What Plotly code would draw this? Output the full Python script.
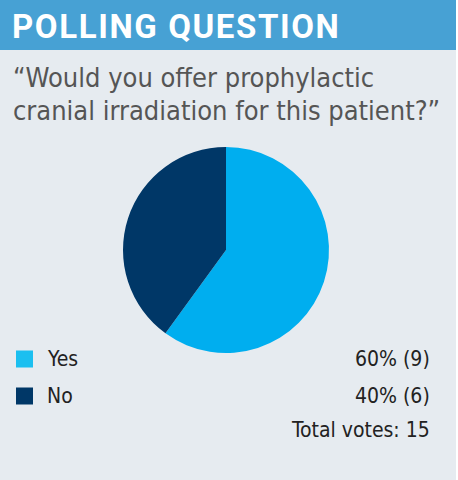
import plotly.graph_objects as go

title = "POLLING QUESTION"
question = ["“Would you offer prophylactic", "cranial irradiation for this patient?”"]
categories = ["Yes", "No"]
votes = [9, 6]
colors = ["#00aeef", "#003767"]
legend_colors = ["#1bbff0", "#003767"]

W, H = 458, 480
total = sum(votes)

def py(y):
    return 1 - y / H

fig = go.Figure()
fig.add_trace(go.Pie(
    labels=categories, values=votes, sort=False, direction="clockwise", rotation=0,
    marker=dict(colors=colors, line=dict(width=0)), textinfo="none", hoverinfo="label+percent",
    showlegend=False,
    domain=dict(x=[123 / W, 329 / W], y=[py(353), py(147)]),
))

shapes = [
    dict(type="rect", xref="paper", yref="paper", x0=0, x1=456 / W, y0=py(50), y1=1,
         fillcolor="#47a1d4", line=dict(width=0), layer="below"),
    dict(type="rect", xref="paper", yref="paper", x0=456 / W, x1=1, y0=0, y1=1,
         fillcolor="#ffffff", line=dict(width=0), layer="below"),
]
annotations = [
    dict(text="<b><span style='letter-spacing:1.6px'>" + title + "</span></b>", x=10 / W, y=py(26),
         xref="paper", yref="paper", xanchor="left", yanchor="middle", showarrow=False,
         font=dict(family="Roboto", size=33, color="white")),
]
font_q = dict(family="Liberation Sans Narrow, DejaVu Sans Condensed, sans-serif", size=27, color="#555555")
for i, line in enumerate(question):
    annotations.append(dict(text=line, x=11 / W, y=py(78 + i * 33), xref="paper", yref="paper",
                            xanchor="left", yanchor="middle", showarrow=False, font=font_q))

font_l = dict(family="Liberation Sans Narrow, DejaVu Sans Condensed, sans-serif", size=21, color="#222222")
row_y = [359, 396]
for i, (cat, v) in enumerate(zip(categories, votes)):
    y = row_y[i]
    shapes.append(dict(type="rect", xref="paper", yref="paper", x0=16 / W, x1=33 / W,
                       y0=py(y + 8.5), y1=py(y - 8.5), fillcolor=legend_colors[i], line=dict(width=0)))
    annotations.append(dict(text=cat, x=45 / W, y=py(y), xref="paper", yref="paper",
                            xanchor="left", yanchor="middle", showarrow=False, font=font_l))
    annotations.append(dict(text=f"{round(100 * v / total)}% ({v})", x=432 / W, y=py(y), xref="paper",
                            yref="paper", xanchor="right", yanchor="middle", showarrow=False, font=font_l))
annotations.append(dict(text=f"Total votes: {total}", x=432 / W, y=py(430), xref="paper", yref="paper",
                        xanchor="right", yanchor="middle", showarrow=False, font=font_l))

fig.update_layout(
    width=W, height=H, margin=dict(l=0, r=0, t=0, b=0),
    paper_bgcolor="#e6ebf0", plot_bgcolor="#e6ebf0",
    shapes=shapes, annotations=annotations,
)
fig.write_html("out.html", config={"displayModeBar": False},
               post_script="document.body.style.margin='0';document.body.style.padding='0';")
